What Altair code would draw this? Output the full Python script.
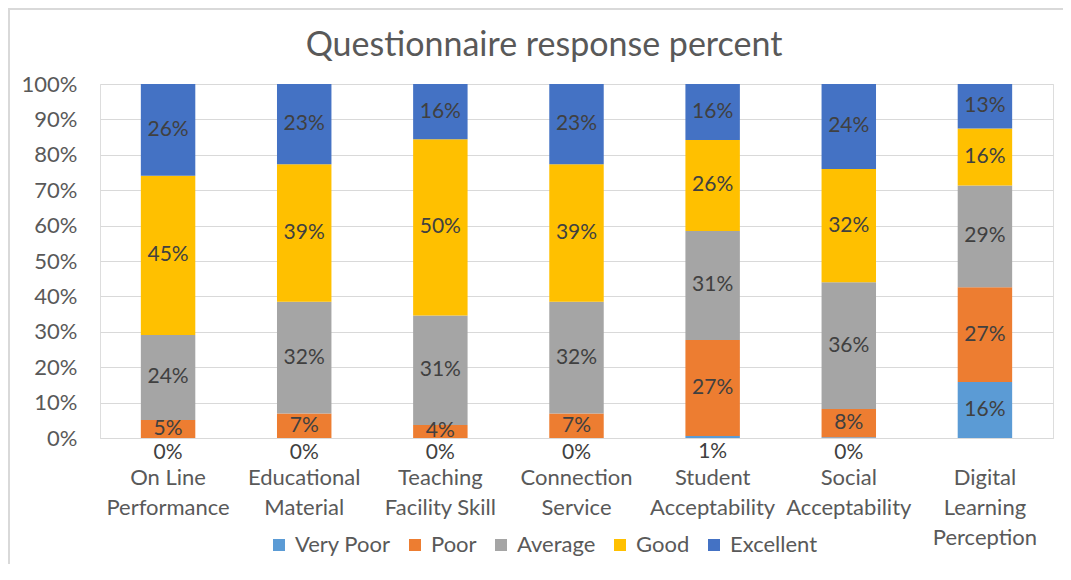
import json
import altair as alt
import pandas as pd

title_text = "Questionnaire response percent"
categories = ["On Line Performance", "Educational Material", "Teaching Facility Skill",
              "Connection Service", "Student Acceptability", "Social Acceptability",
              "Digital Learning Perception"]
category_lines = [["On Line", "Performance"], ["Educational", "Material"],
                  ["Teaching", "Facility Skill"], ["Connection", "Service"],
                  ["Student", "Acceptability"], ["Social", "Acceptability"],
                  ["Digital", "Learning", "Perception"]]
series = ["Very Poor", "Poor", "Average", "Good", "Excellent"]
colors = ["#5B9BD5", "#ED7D31", "#A5A5A5", "#FFC000", "#4472C4"]

very_poor = [0.0, 0.0, 0.0, 0.0, 0.6, 0.2, 15.8]
poor = [5.1, 6.9, 3.7, 6.9, 27.1, 8.0, 26.8]
average = [24.0, 31.6, 30.9, 31.6, 30.8, 35.8, 28.7]
good = [45.0, 38.8, 49.8, 38.8, 25.7, 32.0, 16.1]
excellent = [25.9, 22.7, 15.6, 22.7, 15.8, 24.0, 12.6]
y_ticks = [0, 10, 20, 30, 40, 50, 60, 70, 80, 90, 100]

FONT = "Lato"
GRAY_TEXT = "#595959"
GRID = "#D9D9D9"

rows = []
for s_idx, (s, vals) in enumerate(zip(series, [very_poor, poor, average, good, excellent])):
    for c, v in zip(categories, vals):
        rows.append({"cat": c, "series": s, "idx": s_idx, "frac": v / 100.0})
df = pd.DataFrame(rows)

# multi-line x labels
label_expr = "datum.label"
for c, lines in reversed(list(zip(categories, category_lines))):
    label_expr = f"datum.label == '{c}' ? {json.dumps(lines)} : ({label_expr})"

x_axis = alt.Axis(title=None, labelAngle=0, ticks=False, domainColor=GRID, domainWidth=1,
                  labelPadding=29, labelFontSize=22, labelColor=GRAY_TEXT, labelFont=FONT,
                  labelLineHeight=30, labelExpr=label_expr, grid=False, labelBaseline="top",
                  labelOverlap=False)
x_scale = alt.Scale(paddingInner=0.6, paddingOuter=0.3)

y_axis = alt.Axis(title=None, values=[t / 100 for t in y_ticks], format=".0%",
                  grid=True, gridColor=GRID, gridWidth=1, domain=False, ticks=False,
                  labelPadding=23, labelFontSize=22, labelColor=GRAY_TEXT,
                  labelFont=FONT, labelOverlap=False, tickCount=11)
y_scale = alt.Scale(domain=[0, 1], nice=False)

bars = alt.Chart(df).mark_bar().encode(
    x=alt.X("cat:N", sort=categories, scale=x_scale, axis=x_axis),
    y=alt.Y("frac:Q", stack="zero", scale=y_scale, axis=y_axis),
    color=alt.Color("series:N", scale=alt.Scale(domain=series, range=colors),
                    legend=alt.Legend(orient="none", legendX=168, legendY=450,
                                      direction="horizontal", title=None,
                                      symbolType="square", symbolSize=144,
                                      symbolStrokeWidth=0, labelFontSize=22,
                                      labelColor=GRAY_TEXT, labelFont=FONT,
                                      columnPadding=13, labelOffset=5, padding=0)),
    order=alt.Order("idx:Q"),
)

stacked = alt.Chart(df).transform_stack(
    stack="frac", as_=["y0", "y1"], groupby=["cat"],
    sort=[alt.SortField("idx", order="ascending")],
).transform_calculate(
    mid="(datum.y0 + datum.y1) / 2",
    label="format(datum.frac, '.0%')",
)

labels = stacked.transform_filter(
    "!(datum.series == 'Very Poor' && datum.frac < 0.02)"
).mark_text(fontSize=21, font=FONT, color="#404040", baseline="middle").encode(
    x=alt.X("cat:N", sort=categories, scale=x_scale, axis=x_axis),
    y=alt.Y("mid:Q", scale=y_scale, axis=y_axis), text="label:N")

low_labels = stacked.transform_filter(
    "datum.series == 'Very Poor' && datum.frac < 0.02"
).mark_text(fontSize=21, font=FONT, color="#404040", baseline="middle", dy=15).encode(
    x=alt.X("cat:N", sort=categories, scale=x_scale, axis=x_axis),
    y=alt.Y("mid:Q", scale=y_scale, axis=y_axis), text="label:N")

title = alt.Chart(pd.DataFrame({"t": [title_text]})).mark_text(
    fontSize=34, font=FONT, color=GRAY_TEXT, baseline="alphabetic", align="center"
).encode(text="t:N", x=alt.value(444), y=alt.value(-28))

border_left = alt.Chart(pd.DataFrame({"a": [0]})).mark_rule(
    color=GRID, strokeWidth=2, clip=False
).encode(x=alt.value(-91), y=alt.value(-76), y2=alt.value(520))

border_top = alt.Chart(pd.DataFrame({"a": [0]})).mark_rule(
    color=GRID, strokeWidth=2, clip=False
).encode(x=alt.value(-92), x2=alt.value(1000), y=alt.value(-75))

chart = alt.layer(bars, labels, low_labels, title, border_left, border_top).properties(
    width=953, height=354,
    autosize=alt.AutoSizeParams(type="none"),
    padding={"left": 92, "top": 76, "right": 10, "bottom": 126},
).configure_view(stroke=None).configure(font=FONT)

chart.save("out.html", embed_options={"renderer": "svg", "actions": False})
